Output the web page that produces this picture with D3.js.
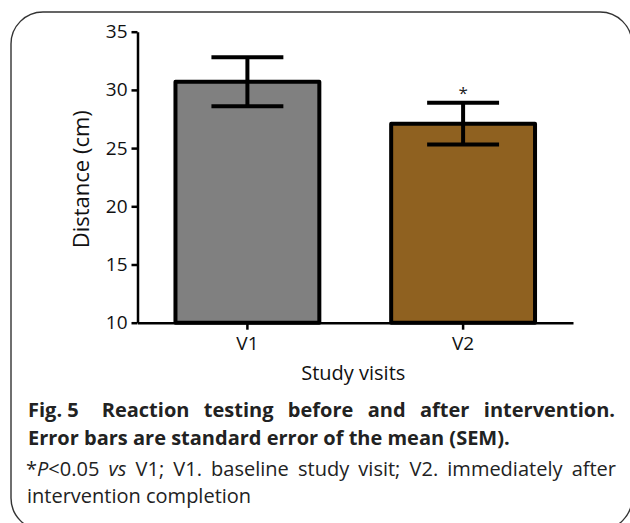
<!DOCTYPE html>
<html>
<head>
<meta charset="utf-8">
<script src="https://cdn.jsdelivr.net/npm/d3@7"></script>
<style>
  html, body { margin: 0; padding: 0; background: #fff; }
  svg { display: block; }
</style>
</head>
<body>
<svg id="chart" width="630" height="523"></svg>
<script>
// ---- data ----
const categories = ["V1", "V2"];
const means = [30.7, 27.1];
const sems = [2.1, 1.8];
const significance = ["", "*"];
const barColors = ["#808080", "#8F6120"];
const yTicks = [10, 15, 20, 25, 30, 35];
const yDomain = [10, 35];
const yTitle = "Distance (cm)";
const xTitle = "Study visits";

const captionLine1 = ["Fig. 5", "Reaction", "testing", "before", "and", "after", "intervention."];
const captionLine2 = "Error bars are standard error of the mean (SEM).";
// each word: list of [text, italic]
const captionLine3 = [
  [["*", false], ["P", true], ["<0.05", false]],
  [["vs", true]],
  [["V1;", false]], [["V1.", false]], [["baseline", false]], [["study", false]],
  [["visit;", false]], [["V2.", false]], [["immediately", false]], [["after", false]]
];
const captionLine4 = "intervention completion";

(function () {
// ---- layout ----
const svg = d3.select("#chart");
const FONT = "'Open Sans', 'Noto Sans', sans-serif";

const pLeft = 137.5, pRight = 573, pTop = 31.7, pBottom = 322.7;

const x = d3.scaleBand().domain(categories).range([pLeft, pRight])
  .paddingInner(0.333).paddingOuter(0.176);
const y = d3.scaleLinear().domain(yDomain).range([pBottom, pTop]);

// frame
svg.append("rect")
  .attr("x", 11).attr("y", 12).attr("width", 621).attr("height", 518)
  .attr("rx", 32).attr("ry", 32)
  .attr("fill", "none").attr("stroke", "#333").attr("stroke-width", 1.4);

const data = categories.map((c, i) => ({ c, m: means[i], s: sems[i], col: barColors[i], sig: significance[i] }));

// bars
svg.append("g").selectAll("rect").data(data).join("rect")
  .attr("x", d => x(d.c))
  .attr("y", d => y(d.m))
  .attr("width", x.bandwidth())
  .attr("height", d => y(yDomain[0]) - y(d.m))
  .attr("fill", d => d.col)
  .attr("stroke", "#000").attr("stroke-width", 4)
  .attr("stroke-linejoin", "round");

// error bars
const capHalf = x.bandwidth() / 4;
const eb = svg.append("g").attr("stroke", "#000").attr("stroke-width", 4).attr("fill", "none");
data.forEach(d => {
  const cx = x(d.c) + x.bandwidth() / 2;
  eb.append("line").attr("x1", cx).attr("x2", cx).attr("y1", y(d.m + d.s)).attr("y2", y(d.m - d.s));
  eb.append("line").attr("x1", cx - capHalf).attr("x2", cx + capHalf).attr("y1", y(d.m + d.s)).attr("y2", y(d.m + d.s));
  eb.append("line").attr("x1", cx - capHalf).attr("x2", cx + capHalf).attr("y1", y(d.m - d.s)).attr("y2", y(d.m - d.s));
  if (d.sig) {
    svg.append("text").attr("x", cx).attr("y", y(d.m + d.s) - 14)
      .attr("text-anchor", "middle").attr("font-family", FONT).attr("font-size", 17)
      .attr("dy", "0.62em")
      .attr("fill", "#222").text(d.sig);
  }
});

// axes
const yAxis = svg.append("g").attr("transform", `translate(${pLeft},0)`)
  .call(d3.axisLeft(y).tickValues(yTicks).tickSize(6).tickSizeOuter(0).tickPadding(4));
const xAxis = svg.append("g").attr("transform", `translate(0,${pBottom})`)
  .call(d3.axisBottom(x).tickSize(7).tickSizeOuter(0).tickPadding(7));
[yAxis, xAxis].forEach(a => {
  a.selectAll("path, line").attr("stroke", "#000").attr("stroke-width", 2.5);
  a.selectAll("text").attr("font-family", FONT).attr("font-size", 19).attr("fill", "#111");
});

// axis titles
svg.append("text").attr("transform", `translate(89,${(pTop + pBottom) / 2 + 2}) rotate(-90)`)
  .attr("text-anchor", "middle").attr("font-family", FONT).attr("font-size", 22)
  .attr("fill", "#111").text(yTitle);
svg.append("text").attr("x", (pLeft + pRight) / 2 - 2).attr("y", 380)
  .attr("text-anchor", "middle").attr("font-family", FONT).attr("font-size", 20)
  .attr("fill", "#111").text(xTitle);

// caption
const cap = svg.append("g").attr("font-family", FONT).attr("fill", "#222");
function justify(words, x0, x1, yb, weight, gapWeights, size) {
  const els = words.map(w => {
    const t = cap.append("text").attr("y", yb).attr("font-size", size).attr("font-weight", weight);
    if (typeof w === "string") t.text(w);
    else w.forEach(([s, it]) => t.append("tspan").attr("font-style", it ? "italic" : "normal").text(s));
    return t;
  });
  const widths = els.map(e => e.node().getComputedTextLength());
  const total = widths.reduce((a, b) => a + b, 0);
  const wsum = gapWeights.reduce((a, b) => a + b, 0);
  const unit = (x1 - x0 - total) / wsum;
  let cx = x0;
  els.forEach((e, i) => {
    e.attr("x", cx);
    cx += widths[i] + (i < gapWeights.length ? gapWeights[i] * unit : 0);
  });
}
justify(captionLine1, 28, 615, 417, "bold", [1.6, 1, 1, 1, 1, 1], 20);
cap.append("text").attr("x", 28).attr("y", 445).attr("font-size", 20).attr("font-weight", "bold").text(captionLine2);
justify(captionLine3, 26, 616, 476, "normal", captionLine3.slice(1).map(() => 1), 20);
cap.append("text").attr("x", 27).attr("y", 503).attr("font-size", 20).text(captionLine4);
})();
</script>
</body>
</html>
